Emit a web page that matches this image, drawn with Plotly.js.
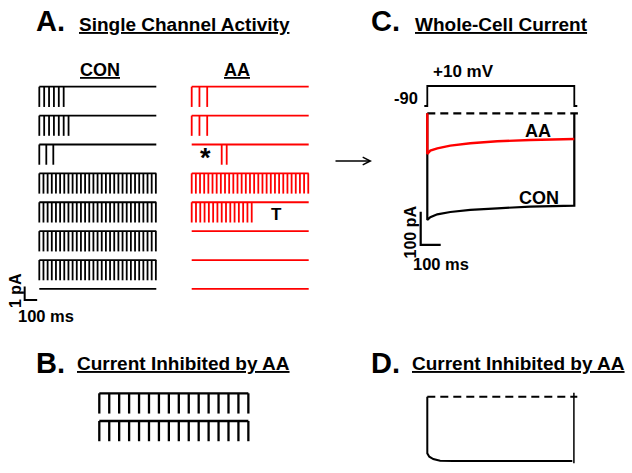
<!DOCTYPE html>
<html>
<head>
<meta charset="utf-8">
<script src="https://cdn.plot.ly/plotly-3.0.1.min.js"></script>
<style>html,body{margin:0;background:#fff}#fig{width:632px;height:473px}</style>
</head>
<body>
<div id="fig"></div>
<script>
// ---------- Data ----------
// A. single channel sweeps (8 per condition), openings per sweep
const conOpenings = [6, 7, 3, 29, 29, 29, 29, 0];
const conInterval = [39, 39, 56, 33.3, 33.3, 33.3, 33.3, 0];   // ms
const aaOpenings  = [3, 3, 2, 29, 15, 0, 0, 0];
const aaFirst     = [0, 0, 240, 0, 0, 0, 0, 0];                // ms, first opening
const aaInterval  = [62, 62, 40, 33.3, 34.3, 0, 0, 0];
const sweepMs = 936;
const unitAmp = 1.5;            // pA
// B. openings inhibited by AA
const inhibOpenings = [16, 16];
const inhibInterval = 79.5;     // ms
// C. whole-cell current during step -90 -> +10 mV
const stepT = [0, 15, 50, 115, 215, 350, 515, 735];           // ms
const conI  = [-320, -312, -303, -296, -290, -285, -280, -277]; // pA
const aaI   = [-122, -112, -105, -97, -90, -84, -80, -77];
const vHold = -90, vStep = 10, stepMs = 735;
// D. current inhibited by AA
const inhT = [0, 10, 30, 64, 130, 725];
const inhI = [-170, -180, -187, -192, -193, -193];
const inhEndT = 733;
const inhEndMark = [12, -200];
// scale bars
const sbMs = 100, sbPA_A = 1, sbPA_C = 100;

const W = 632, H = 473;
const FONT = 'Liberation Sans, Arial, sans-serif';
const RED = '#ff0000';

// ---------- Axes (hidden, placed in pixels) ----------
function xAx(px0, px1, zeroPx, ppu, anchor){
    return {domain:[px0/W, px1/W], range:[(px0-zeroPx)/ppu, (px1-zeroPx)/ppu], visible:false, fixedrange:true, anchor};
}
function yAx(top, bottom, zeroPx, ppu, anchor){
    return {domain:[1-bottom/H, 1-top/H], range:[(zeroPx-bottom)/ppu, (zeroPx-top)/ppu], visible:false, fixedrange:true, anchor};
}

function line(x, y, xa, ya, color, width, dash){
    return {x, y, xaxis:xa, yaxis:ya, mode:'lines', line:{color, width, dash:dash||'solid'}, hoverinfo:'skip', showlegend:false};
}

function sweep(n, first, every, dur, base, xa, ya, color, w){
    const x=[0,dur], y=[base,base];
    for(let k=0;k<n;k++){ const t=first+k*every; x.push(null,t,t); y.push(null,base,base-unitAmp); }
    return line(x, y, xa, ya, color, w);
}

const traces = [];
const rowGap = 2.14, bGap = 2.05;

// A
conOpenings.forEach((n,i)=>traces.push(sweep(n, 0, conInterval[i], sweepMs, -i*rowGap, 'x', 'y', '#000', 1.8)));
aaOpenings.forEach((n,i)=>traces.push(sweep(n, aaFirst[i], aaInterval[i], sweepMs, -i*rowGap, 'x2', 'y', RED, 1.8)));
const sbA = {t:-117, i:-15.8};
traces.push(line([sbA.t, sbA.t, sbA.t+sbMs], [sbA.i+sbPA_A, sbA.i, sbA.i], 'x', 'y', '#000', 2));

// B
inhibOpenings.forEach((n,j)=>traces.push(sweep(n, 0, inhibInterval, (n-1)*inhibInterval, -j*bGap, 'x3', 'y2', '#000', 2.3)));

// C
traces.push(line([-15, 0, 0, stepMs, stepMs, stepMs+15], [vHold, vHold, vStep, vStep, vHold, vHold], 'x4', 'y4', '#000', 1.8));
traces.push(line([0, stepMs+18], [0, 0], 'x4', 'y3', '#000', 2.2, '8px,5px'));
traces.push(line([0, ...stepT, stepMs], [0, ...conI, 0], 'x4', 'y3', '#000', 2.2));
traces.push(line([0, ...stepT], [0, ...aaI], 'x4', 'y3', RED, 2.4));
const sbC = {t:-33, i:-395};
traces.push(line([sbC.t, sbC.t, sbC.t+sbMs], [sbC.i+sbPA_C, sbC.i, sbC.i], 'x4', 'y3', '#000', 2.2));

// D
traces.push(line([0, stepMs+15], [0, 0], 'x5', 'y5', '#000', 2, '8px,5px'));
traces.push(line([0, ...inhT], [0, ...inhI], 'x5', 'y5', '#000', 2));
traces.push(line([inhEndT, inhEndT], inhEndMark, 'x5', 'y5', '#000', 1.5));

// ---------- Text ----------
function txt(s, px, py, size, extra){
    return Object.assign({text:s, xref:'paper', yref:'paper', x:px/W, y:1-py/H, xanchor:'center', yanchor:'middle',
        showarrow:false, font:{family:FONT, size, color:'#000', weight:'bold'}}, extra||{});
}
function head(s, px, py, size){
    const a = txt(s, px, py, size||19); a.font.lineposition='under'; return a;
}

const annotations = [
    txt('A.', 50, 21.5, 29), head('Single Channel Activity', 184.5, 24.5),
    head('CON', 100, 69.5, 18), head('AA', 236.5, 69.5, 18),
    txt('*', 205, 158, 27), txt('T', 276, 214, 17),
    txt('1 pA', 15, 291, 16, {textangle:-90}), txt('100 ms', 45.5, 315.7, 16.5),
    txt('C.', 385.5, 21.5, 29), head('Whole-Cell Current', 501, 24.5),
    txt('+10 mV', 463, 72, 17), txt('-90', 406, 98, 16.5),
    txt('AA', 538, 131, 18), txt('CON', 539, 198, 18),
    txt('100 pA', 409.5, 232, 16, {textangle:-90}), txt('100 ms', 440.5, 264, 16.5),
    txt('B.', 50, 362.5, 29), head('Current Inhibited by AA', 183, 363),
    txt('D.', 385.5, 363, 29), head('Current Inhibited by AA', 518, 363),
    {x:372/W, y:1-161/H, xref:'paper', yref:'paper', ax:-38, ay:0, text:'', showarrow:true,
     arrowhead:5, arrowsize:1, arrowwidth:1.5, arrowcolor:'#000', standoff:0}
];

const layout = {
    width:W, height:H, margin:{l:0,r:0,t:0,b:0},
    paper_bgcolor:'#fff', plot_bgcolor:'rgba(0,0,0,0)', showlegend:false,
    xaxis:  xAx(20, 165, 39.3, 0.125, 'y'),
    xaxis2: xAx(180, 320, 191.7, 0.125, 'y'),
    yaxis:  yAx(78, 330, 86.7, 13.5, 'x'),
    xaxis3: xAx(90, 260, 99.3, 0.125, 'y2'),
    yaxis2: yAx(385, 450, 393.3, 13.5, 'x3'),
    xaxis4: xAx(400, 600, 427.3, 0.2, 'y3'),
    yaxis3: yAx(108, 255, 113.3, 1/3, 'x4'),
    yaxis4: yAx(78, 110, 88, 0.2, 'x4'),
    xaxis5: xAx(400, 600, 427.3, 0.2, 'y5'),
    yaxis5: yAx(385, 470, 396.7, 1/3, 'x5'),
    annotations
};

Plotly.newPlot('fig', traces, layout, {staticPlot:true, displayModeBar:false});
</script>
</body>
</html>
